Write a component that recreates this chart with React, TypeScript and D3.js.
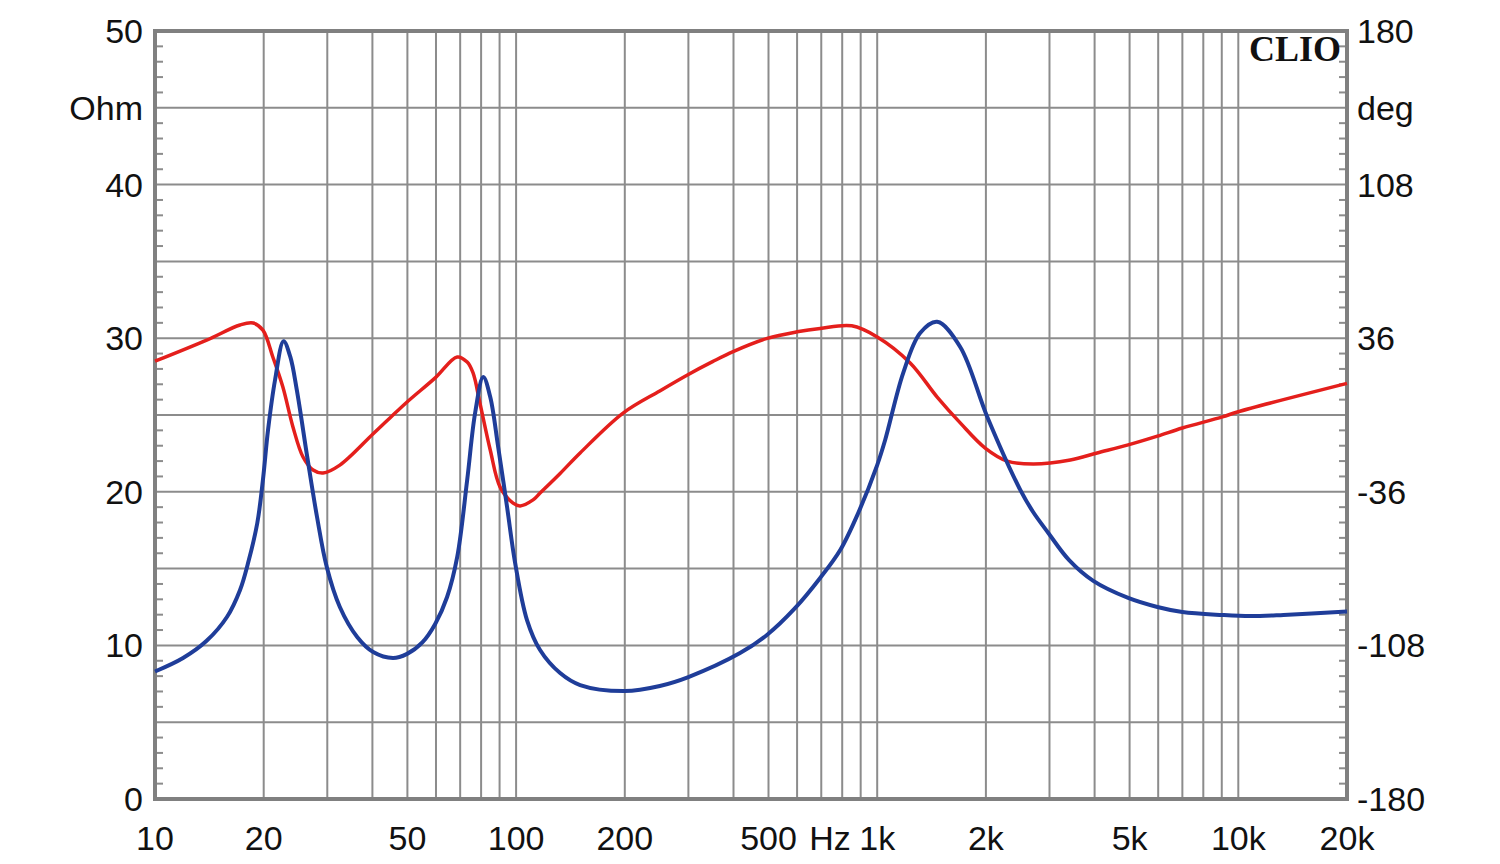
import React, { useEffect, useRef } from 'react';
import * as d3 from 'd3';

// impedance (blue, Ohm)
const impFreq = [10, 11.96, 13.9, 15.82, 17.2, 18.1, 19.2, 19.9, 20.56, 21.5, 22.7, 23.7, 24.7, 26.4, 28.1, 29.9, 32.5, 36.3, 40.2, 45.6, 49.9, 55, 59.7, 64.4, 68.7, 73.2, 77.0, 81.1, 84.8, 89.2, 94.4, 99.4, 107.2, 116.5, 132.4, 150.4, 200, 250, 300, 417, 495, 593, 695, 790, 886, 1000, 1052, 1180, 1315, 1466, 1698, 2018, 2490, 2700, 2978, 3400, 3966, 4955, 5970, 7000, 9033, 10790, 13340, 20000];
const impOhm = [8.3, 9.18, 10.3, 11.85, 13.61, 15.36, 17.97, 20.77, 24.02, 27.28, 29.8, 28.78, 26.63, 22.27, 18.36, 15.1, 12.5, 10.55, 9.57, 9.18, 9.45, 10.2, 11.4, 13.15, 15.76, 20.77, 25.13, 27.47, 26.17, 22.92, 19.01, 15.36, 11.65, 9.7, 8.2, 7.42, 7.03, 7.36, 7.94, 9.5, 10.68, 12.44, 14.39, 16.21, 18.62, 21.74, 23.37, 27.73, 30.34, 31.07, 29.43, 24.87, 20.12, 18.7, 17.32, 15.55, 14.2, 13.09, 12.5, 12.17, 11.98, 11.91, 11.98, 12.2];

// phase (red, deg)
const phaseFreq = [10, 13.9, 17.2, 18.7, 19.9, 21.2, 22.6, 24.1, 25.7, 27.4, 29.2, 32.5, 40.2, 44.8, 49.9, 59.7, 68.7, 73.2, 76.0, 79.4, 84.8, 90.3, 98.1, 102.6, 111.4, 116.5, 132.4, 150.4, 197.8, 250, 299, 350, 399, 496, 600, 695, 850, 1000, 1234, 1466, 1698, 1991, 2291, 2706, 3426, 4065, 4955, 5970, 7000, 9033, 9940, 20000];
const phaseDeg = [25.2, 35.1, 42.2, 43.1, 39.8, 27.2, 13.1, -5.6, -19.7, -25.8, -27.2, -23.5, -8.8, -1.3, 6.1, 17.4, 27.2, 24.8, 19.7, 5.6, -16.4, -33.8, -41.3, -42.6, -39.8, -36.6, -27.4, -17.8, 0.9, 11.3, 18.9, 25.0, 29.7, 35.9, 39.0, 40.6, 41.8, 36.6, 24.4, 8.4, -3.7, -15.5, -21.6, -23.0, -21.1, -17.8, -14.0, -9.9, -6.1, -0.9, 1.4, 14.8];

const xTickVals = [10, 20, 50, 100, 200, 500, 1000, 2000, 5000, 10000, 20000];
const xTickLabels = ['10', '20', '50', '100', '200', '500', '1k', '2k', '5k', '10k', '20k'];
const ohmTicks = [0, 10, 20, 30, 40, 50];
const degTicks = [-180, -108, -36, 36, 108, 180];

const W = 1500;
const H = 864;
const margin = { top: 31, right: 153, bottom: 65, left: 155 };

const App = () => {
  const ref = useRef<SVGSVGElement>(null);

  useEffect(() => {
    const svg = d3.select(ref.current);
    svg.selectAll('*').remove();

    const innerW = W - margin.left - margin.right;
    const innerH = H - margin.top - margin.bottom;

    const x = d3.scaleLog().domain([10, 20000]).range([0, innerW]);
    const yOhm = d3.scaleLinear().domain([0, 50]).range([innerH, 0]);
    const yDeg = d3.scaleLinear().domain([-180, 180]).range([innerH, 0]);

    const g = svg.append('g').attr('transform', `translate(${margin.left},${margin.top})`);

    const gridColor = '#8c8c8c';

    // vertical grid, 1-9 per decade
    const vLines: number[] = [];
    for (let dec = 10; dec <= 10000; dec *= 10) {
      for (let m = 1; m <= 9; m++) {
        const f = dec * m;
        if (f > 10 && f < 20000) vLines.push(f);
      }
    }
    g.selectAll('.vgrid')
      .data(vLines)
      .enter().append('line')
      .attr('x1', d => x(d)).attr('x2', d => x(d))
      .attr('y1', 0).attr('y2', innerH)
      .attr('stroke', gridColor).attr('stroke-width', 2);

    // horizontal grid every 5 ohm
    g.selectAll('.hgrid')
      .data(d3.range(5, 50, 5))
      .enter().append('line')
      .attr('x1', 0).attr('x2', innerW)
      .attr('y1', d => yOhm(d)).attr('y2', d => yOhm(d))
      .attr('stroke', gridColor).attr('stroke-width', 2);

    // minor ticks inside frame, every 1 ohm
    const minor = d3.range(1, 50).filter(v => v % 5 !== 0);
    g.selectAll('.tl')
      .data(minor)
      .enter().append('line')
      .attr('x1', 0).attr('x2', 8)
      .attr('y1', d => yOhm(d)).attr('y2', d => yOhm(d))
      .attr('stroke', gridColor).attr('stroke-width', 2);
    g.selectAll('.tr')
      .data(minor)
      .enter().append('line')
      .attr('x1', innerW - 8).attr('x2', innerW)
      .attr('y1', d => yOhm(d)).attr('y2', d => yOhm(d))
      .attr('stroke', gridColor).attr('stroke-width', 2);

    // frame
    g.append('rect')
      .attr('x', 0).attr('y', 0)
      .attr('width', innerW).attr('height', innerH)
      .attr('fill', 'none')
      .attr('stroke', '#808080')
      .attr('stroke-width', 4);

    // curves
    const impData = impFreq.map((f, i) => [f, impOhm[i]] as [number, number]);
    const phData = phaseFreq.map((f, i) => [f, phaseDeg[i]] as [number, number]);

    const impLine = d3.line<[number, number]>()
      .x(d => x(d[0])).y(d => yOhm(d[1]))
      .curve(d3.curveCatmullRom.alpha(0.5));
    const phLine = d3.line<[number, number]>()
      .x(d => x(d[0])).y(d => yDeg(d[1]))
      .curve(d3.curveCatmullRom.alpha(0.5));

    g.append('path')
      .datum(phData)
      .attr('d', phLine)
      .attr('fill', 'none')
      .attr('stroke', '#e41f1c')
      .attr('stroke-width', 3.5);

    g.append('path')
      .datum(impData)
      .attr('d', impLine)
      .attr('fill', 'none')
      .attr('stroke', '#1f3d99')
      .attr('stroke-width', 4);

    const font = '"Liberation Sans", Arial, sans-serif';
    const fs = 34;

    // left labels
    g.selectAll('.lab-l')
      .data(ohmTicks)
      .enter().append('text')
      .attr('x', -12)
      .attr('y', d => yOhm(d) + 12)
      .attr('text-anchor', 'end')
      .style('font-family', font).style('font-size', `${fs}px`)
      .attr('fill', '#111')
      .text(d => d);
    g.append('text')
      .attr('x', -12).attr('y', yOhm(45) + 12)
      .attr('text-anchor', 'end')
      .style('font-family', font).style('font-size', `${fs}px`)
      .attr('fill', '#111')
      .text('Ohm');

    // right labels
    g.selectAll('.lab-r')
      .data(degTicks)
      .enter().append('text')
      .attr('x', innerW + 10)
      .attr('y', d => yDeg(d) + 12)
      .attr('text-anchor', 'start')
      .style('font-family', font).style('font-size', `${fs}px`)
      .attr('fill', '#111')
      .text(d => d);
    g.append('text')
      .attr('x', innerW + 10).attr('y', yDeg(144) + 12)
      .attr('text-anchor', 'start')
      .style('font-family', font).style('font-size', `${fs}px`)
      .attr('fill', '#111')
      .text('deg');

    // bottom labels
    g.selectAll('.lab-b')
      .data(xTickVals)
      .enter().append('text')
      .attr('x', d => x(d))
      .attr('y', innerH + 51)
      .attr('text-anchor', 'middle')
      .style('font-family', font).style('font-size', `${fs}px`)
      .attr('fill', '#111')
      .text((d, i) => xTickLabels[i]);
    g.append('text')
      .attr('x', x(740))
      .attr('y', innerH + 51)
      .attr('text-anchor', 'middle')
      .style('font-family', font).style('font-size', `${fs}px`)
      .attr('fill', '#111')
      .text('Hz');

    // CLIO logo
    g.append('text')
      .attr('x', innerW - 6)
      .attr('y', 30)
      .attr('text-anchor', 'end')
      .style('font-family', '"Liberation Serif", "Times New Roman", serif')
      .style('font-size', '36px')
      .style('font-weight', 'bold')
      .attr('fill', '#111')
      .text('CLIO');
  }, []);

  return (
    <div style={{ position: 'absolute', left: 0, top: 0, background: '#fff' }}>
      <svg ref={ref} width={W} height={H} style={{ display: 'block' }}></svg>
    </div>
  );
};

export default App;
